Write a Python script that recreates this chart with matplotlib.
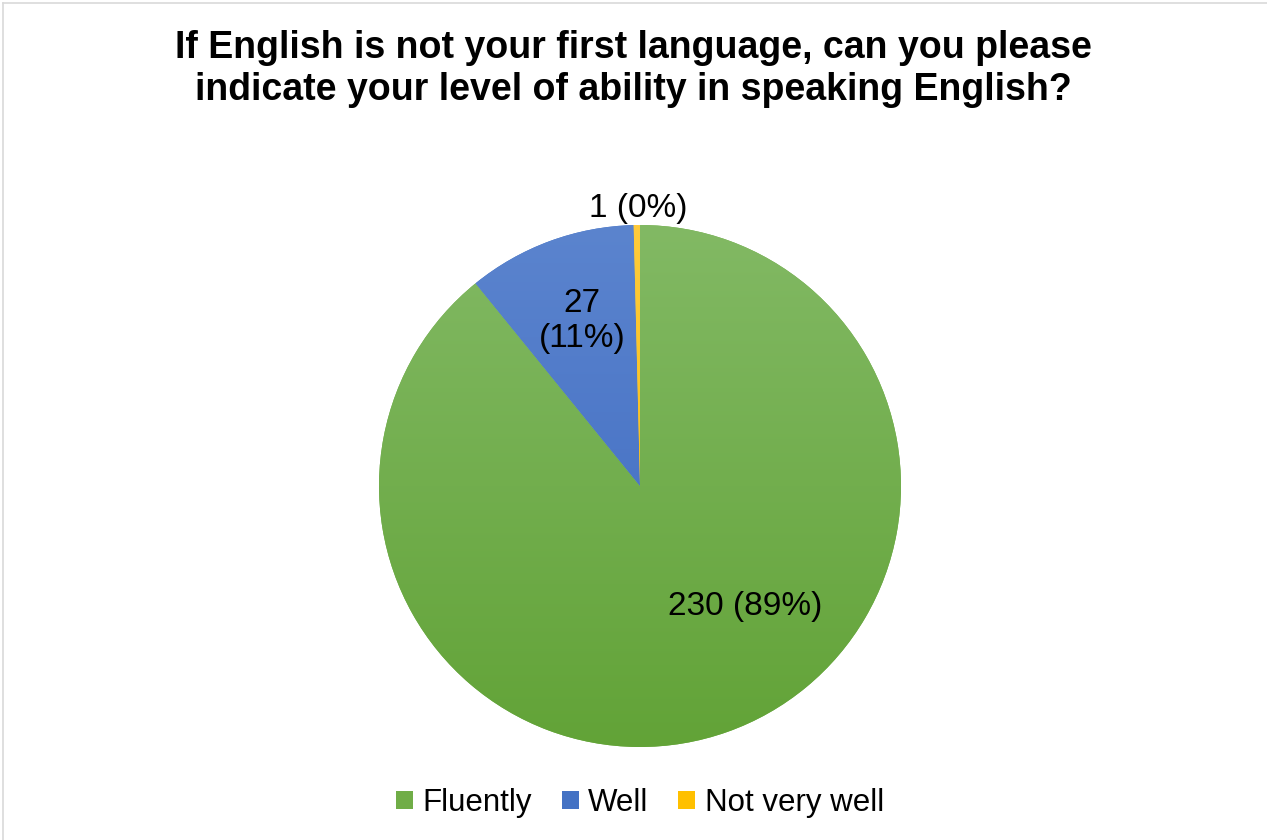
import matplotlib
matplotlib.use("Agg")
import matplotlib.pyplot as plt
import numpy as np
from matplotlib.patches import Patch
from matplotlib.lines import Line2D
from matplotlib.colors import to_rgb

plt.rcParams['font.family'] = ['Liberation Sans', 'DejaVu Sans']

categories = ["Fluently", "Well", "Not very well"]
values = [230, 27, 1]
labels = ["230 (89%)", "27\n(11%)", "1 (0%)"]
title = "If English is not your first language, can you please\nindicate your level of ability in speaking English?"
base_colors = ["#70AD47", "#4472C4", "#FFC000"]
grad_top = ["#82B964", "#5B84CE", "#FFCB3C"]
grad_bot = ["#62A337", "#3B68C0", "#F2B700"]

W, H = 1267, 840
fig = plt.figure(figsize=(W / 100, H / 100), dpi=100)
fig.patch.set_facecolor("white")

# border (left/top visible)
fig.add_artist(Line2D([2.5 / W, 2.5 / W], [0, 1 - 2.5 / H], color="#D9D9D9", lw=1.2, transform=fig.transFigure))
fig.add_artist(Line2D([2.5 / W, 1], [1 - 2.5 / H, 1 - 2.5 / H], color="#D9D9D9", lw=1.2, transform=fig.transFigure))

cx, cy, r = 640, 486, 261
ax = fig.add_axes([(cx - r) / W, (H - cy - r) / H, 2 * r / W, 2 * r / H])
wedges, _ = ax.pie(values, colors=base_colors, startangle=90, counterclock=False,
                   radius=1.0, wedgeprops=dict(linewidth=0))
ax.set_aspect("equal")
ax.axis("off")

for w, ct, cb in zip(wedges, grad_top, grad_bot):
    t = np.array(to_rgb(ct))
    b = np.array(to_rgb(cb))
    s = np.linspace(0, 1, 256)[:, None]
    img = (t[None, :] * (1 - s) + b[None, :] * s)[:, None, :]
    im = ax.imshow(img, extent=(-1, 1, -1, 1), origin="upper", aspect="auto", zorder=2)
    im.set_clip_path(w)

ax.set_xlim(-1, 1)
ax.set_ylim(-1, 1)

def fx(px):
    return (px - cx) / r

def fy(py):
    return (cy - py) / r

label_pos = [(745, 606), (582, 321), (638, 208)]
for lab, (px, py) in zip(labels, label_pos):
    ax.text(fx(px), fy(py), lab, ha="center", va="center", fontsize=24,
            color="#000000", zorder=5, linespacing=1.2, clip_on=False)

fig.text(0.5, 1 - 69 / H, title, ha="center", va="center", fontsize=27,
         fontweight="bold", color="#000000", linespacing=1.2)

handles = [Patch(facecolor=c, edgecolor="none") for c in base_colors]
fig.legend(handles, categories, loc="center", bbox_to_anchor=(640 / W, 1 - 803 / H),
           ncol=3, frameon=False, fontsize=22.5, handlelength=0.55, handleheight=0.55,
           handletextpad=0.3, columnspacing=0.95)

fig.savefig("out.png", dpi=100, facecolor="white")
